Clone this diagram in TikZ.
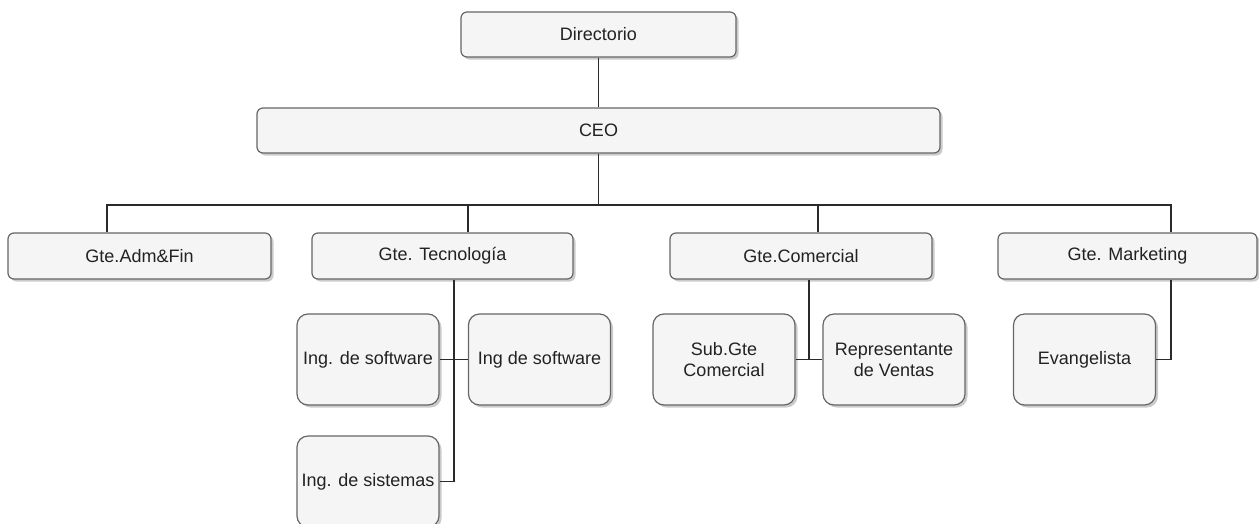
\documentclass[tikz,border=0pt]{standalone}
\usepackage{fontspec}
\setmainfont{Liberation Sans}
\usetikzlibrary{shadows}
\definecolor{boxfill}{HTML}{F5F5F5}
\definecolor{boxline}{HTML}{666666}
\definecolor{wire}{HTML}{2A2A2A}
\definecolor{ink}{HTML}{222222}
\tikzset{
  orgbox/.style={draw=boxline, line width=1.2pt, fill=boxfill, text=ink,
    rectangle, inner sep=0pt, align=center,
    font=\fontsize{18}{21}\selectfont,
    drop shadow={shadow xshift=2.5pt, shadow yshift=-2.5pt, fill=black!45, opacity=0.45}},
  widebox/.style={orgbox, rounded corners=6pt, minimum height=45pt},
  tallbox/.style={orgbox, rounded corners=11pt, minimum width=142pt, minimum height=91pt},
  wire/.style={draw=wire, line width=1.1pt}
}
\begin{document}
\begin{tikzpicture}[x=1pt, y=-1pt]
\useasboundingbox (0,0) rectangle (1259,523);
\clip (0,0) rectangle (1259,523);

% top levels
\node[widebox, minimum width=275pt] (dir) at (598.5,34.5) {Directorio};
\node[widebox, minimum width=683pt] (ceo) at (598.5,130.5) {CEO};

% managers
\node[widebox, minimum width=263pt, minimum height=46pt] (adm) at (139.5,256) {Gte.Adm\&Fin};
\node[widebox, minimum width=261pt, minimum height=46pt] (tec) at (442.5,256) {Gte. Tecnología};
\node[widebox, minimum width=262pt, minimum height=46pt] (com) at (801,256) {Gte.Comercial};
\node[widebox, minimum width=259pt, minimum height=46pt] (mkt) at (1127.5,256) {Gte. Marketing};

% staff
\node[tallbox] (sw1) at (368,359.5) {Ing. de software};
\node[tallbox] (sw2) at (539.5,359.5) {Ing de software};
\node[tallbox] (sis) at (368,481.5) {Ing. de sistemas};
\node[tallbox] (sub) at (724,359.5) {Sub.Gte\\Comercial};
\node[tallbox] (rep) at (894,359.5) {Representante\\de Ventas};
\node[tallbox] (eva) at (1084.5,359.5) {Evangelista};

% bus and drop points
\coordinate (busL) at (107,205);
\coordinate (busT) at (468,205);
\coordinate (busC) at (818,205);
\coordinate (busR) at (1171,205);
\coordinate (tecx) at (454,0);
\coordinate (comx) at (809,0);
\coordinate (mktx) at (1171,0);

% connectors
\draw[wire] (dir.south) -- (dir.south |- ceo.north);
\draw[wire] (ceo.south) -- (ceo.south |- busL);
\draw[wire] (adm.north -| busL) -- (busL) -- (busR) -- (mkt.north -| busR);
\draw[wire] (busT) -- (tec.north -| busT);
\draw[wire] (busC) -- (com.north -| busC);

\draw[wire] (tec.south -| tecx) |- (sis.east);
\draw[wire] (sw1.east) -- (sw2.west);

\draw[wire] (com.south -| comx) -- (comx |- sub.east);
\draw[wire] (sub.east) -- (rep.west);

\draw[wire] (mkt.south -| mktx) |- (eva.east);
\end{tikzpicture}
\end{document}
